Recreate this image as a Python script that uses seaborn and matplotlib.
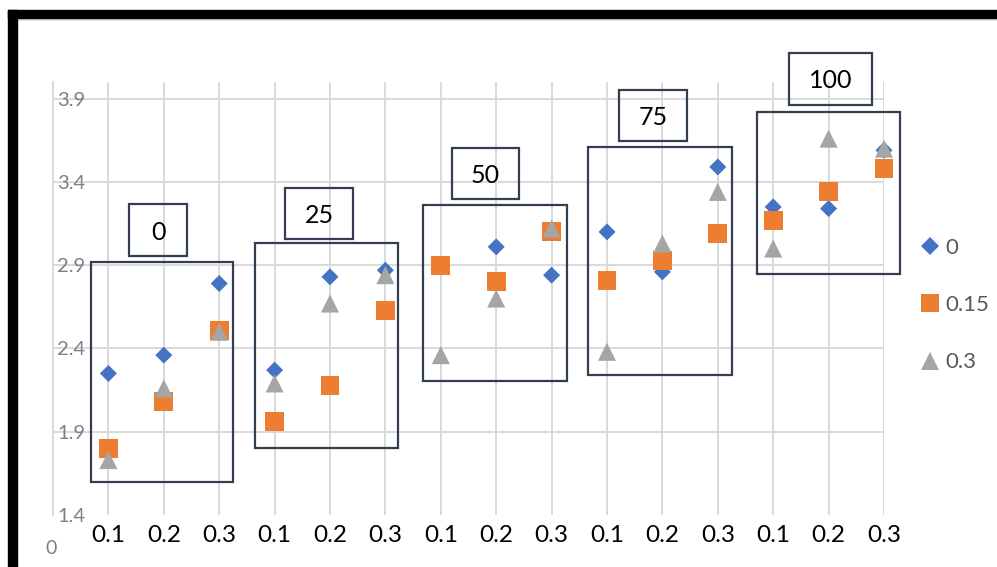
import numpy as np
import pandas as pd
import matplotlib
matplotlib.use("Agg")
import matplotlib.pyplot as plt
from matplotlib.patches import Rectangle
from matplotlib.lines import Line2D
import seaborn as sns

# ---- data ----
groups = ['0', '25', '50', '75', '100']
fractions = ['0.1', '0.2', '0.3']
series_names = ['0', '0.15', '0.3']
vals_0 = [2.25, 2.36, 2.79, 2.27, 2.83, 2.87, 2.90, 3.01, 2.84, 3.10, 2.86, 3.49, 3.25, 3.24, 3.59]
vals_015 = [1.80, 2.08, 2.51, 1.96, 2.18, 2.63, 2.90, 2.80, 3.10, 2.81, 2.93, 3.09, 3.17, 3.34, 3.48]
vals_03 = [1.73, 2.16, 2.50, 2.19, 2.67, 2.84, 2.36, 2.70, 3.12, 2.38, 3.03, 3.34, 3.00, 3.66, 3.60]
y_ticks = [1.4, 1.9, 2.4, 2.9, 3.4, 3.9]
y_tick_labels = ['1.4', '1.9', '2.4', '2.9', '3.4', '3.9']

# ---- layout (pixels) ----
W, H = 997, 567
group_boxes = [(91, 262, 233, 482), (255, 243, 398, 448), (423, 205, 567, 381),
               (588, 147, 732, 375), (757, 112, 900, 274)]
label_boxes = [(129, 204, 187, 256), (285, 188, 353, 239), (452, 148, 519, 199),
               (619, 90, 687, 141), (789, 53, 872, 105)]

sns.set_theme(style='white')
plt.rcParams['font.family'] = ['Lato', 'DejaVu Sans']

fig = plt.figure(figsize=(W / 100, H / 100), dpi=100)
fig.patch.set_facecolor('white')


def fx(px):
    return px / W


def fy(py):
    return 1 - py / H


ax = fig.add_axes([fx(53), fy(515), fx(884) - fx(53), fy(82) - fy(515)])

positions = np.arange(1, len(groups) * len(fractions) + 1)
rows = []
for name, vals in zip(series_names, [vals_0, vals_015, vals_03]):
    for p, v in zip(positions, vals):
        rows.append({'pos': p, 'value': v, 'series': name})
df = pd.DataFrame(rows)

palette = {'0': '#4472C4', '0.15': '#ED7D31', '0.3': '#A5A5A5'}
sns.scatterplot(data=df, x='pos', y='value', hue='series', style='series', size='series',
                hue_order=series_names, style_order=series_names, size_order=series_names,
                palette=palette,
                markers={'0': 'D', '0.15': 's', '0.3': '^'},
                sizes={'0': 75, '0.15': 187, '0.3': 169},
                linewidth=0, ax=ax, zorder=3)
for c in ax.collections:
    c.set_clip_on(False)

ax.set_xlim(0, 15)
ax.set_ylim(1.4, 4.0)
ax.set_xticks(positions)
ax.set_xticklabels(fractions * len(groups))
ax.set_yticks(y_ticks)
ax.set_yticklabels(y_tick_labels)
ax.set_xlabel('')
ax.set_ylabel('')
ax.grid(True, color='#D9D9D9', lw=1.4)
ax.set_axisbelow(True)
ax.tick_params(axis='x', length=0, pad=7, labelsize=17.5, labelcolor='black')
ax.tick_params(axis='y', length=0, pad=-3, labelsize=14.5, labelcolor='#7F7F7F')
for t in ax.get_yticklabels():
    t.set_horizontalalignment('left')
ax.get_ygridlines()[0].set_visible(False)
for s in ['top', 'right', 'bottom']:
    ax.spines[s].set_visible(False)
ax.spines['left'].set_color('#D9D9D9')
ax.spines['left'].set_linewidth(1.4)

# x-axis origin label
fig.text(fx(51), fy(548), '0', ha='center', va='center', fontsize=14, color='#7F7F7F')

# group boxes and labels
for (x0, y0, x1, y1) in group_boxes:
    fig.add_artist(Rectangle((fx(x0), fy(y1)), fx(x1) - fx(x0), fy(y0) - fy(y1),
                             transform=fig.transFigure, fill=False,
                             ec='#333F50', lw=1.6, zorder=5))
for g, (x0, y0, x1, y1) in zip(groups, label_boxes):
    fig.add_artist(Rectangle((fx(x0), fy(y1)), fx(x1) - fx(x0), fy(y0) - fy(y1),
                             transform=fig.transFigure, fill=False,
                             ec='#333F50', lw=1.6, zorder=5))
    fig.text(fx((x0 + x1) / 2), fy((y0 + y1) / 2 + 2), g, ha='center', va='center',
             fontsize=18, color='black', zorder=6)

# legend
sns.move_legend(ax, 'center left', bbox_to_anchor=(fx(921), fy(305)),
                bbox_transform=fig.transFigure, frameon=False, title=None,
                fontsize=16, handlelength=0.8, handletextpad=0.3,
                labelspacing=1.68, borderpad=0, borderaxespad=0,
                labelcolor='#595959')

# screenshot frame
fig.add_artist(Rectangle((fx(8), fy(18)), 1 - fx(8), fy(10) - fy(18),
                         transform=fig.transFigure, color='black', zorder=10))
fig.add_artist(Rectangle((fx(8), 0), fx(17) - fx(8), fy(10),
                         transform=fig.transFigure, color='black', zorder=10))
fig.add_artist(Line2D([fx(17), 1], [fy(20), fy(20)], transform=fig.transFigure,
                      color='#D9D9D9', lw=1.2, zorder=9))

fig.savefig('out.png', dpi=100)
